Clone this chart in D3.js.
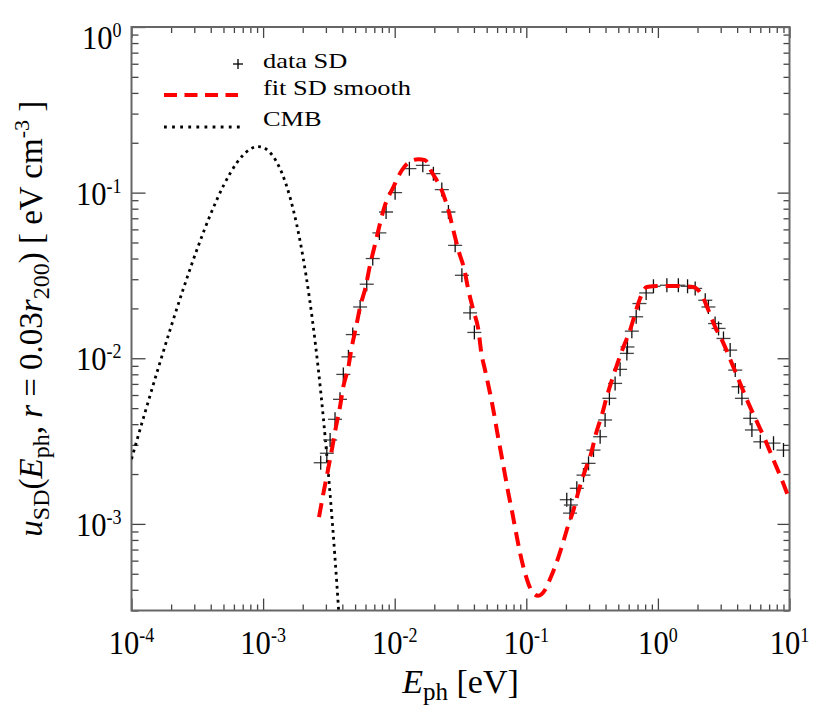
<!DOCTYPE html>
<meta charset="utf-8">
<style>
  body { margin: 0; background: #fff; }
  svg text { font-family: "Liberation Serif", "Times New Roman", serif; fill: #000; white-space: pre; }
</style>
<svg id="chart" width="822" height="719"></svg>
<script src="https://d3js.org/d3.v7.min.js"></script>
<script>
// CMB spectrum (energy in eV, energy density per log bin in eV cm^-3)
var cmbE = [1.0e-4, 1.25e-4, 1.6e-4, 2.0e-4, 2.5e-4, 3.2e-4, 4.0e-4, 5.0e-4, 6.3e-4, 7.0e-4,
            8.0e-4, 9.0e-4, 1.0e-3, 1.1e-3, 1.25e-3, 1.4e-3, 1.6e-3, 1.8e-3, 2.0e-3, 2.25e-3,
            2.5e-3, 2.75e-3, 3.0e-3, 3.25e-3, 3.5e-3, 3.75e-3, 4.0e-3]
var cmbU = [2.46e-3, 4.54e-3, 8.76e-3, 1.555e-2, 2.685e-2, 4.71e-2, 7.44e-2, 0.1101, 0.151, 0.1676,
            0.1834, 0.1896, 0.1873, 0.1782, 0.1562, 0.1294, 0.0940, 0.0642, 0.04175, 0.02307,
            0.01212, 6.12e-3, 2.99e-3, 1.42e-3, 6.6e-4, 3.0e-4, 1.34e-4]

// smooth fit
var fitE = [2.66e-3, 2.92e-3, 3.13e-3, 3.36e-3, 3.58e-3, 3.84e-3, 4.07e-3, 4.45e-3, 4.72e-3, 5.09e-3,
            5.46e-3, 6.06e-3, 6.42e-3, 7.01e-3, 7.57e-3, 8.35e-3, 9.77e-3, 0.0113, 0.01309, 0.01514,
            0.01702, 0.01914, 0.0228, 0.0256, 0.0279, 0.0305, 0.0339, 0.0363, 0.0396, 0.0433,
            0.0454, 0.0486, 0.0524, 0.0562, 0.0597, 0.0640, 0.0682, 0.0731, 0.0784, 0.0837,
            0.0897, 0.0979, 0.1088, 0.123, 0.139, 0.1518, 0.1656, 0.1862, 0.2068, 0.2282,
            0.249, 0.275, 0.311, 0.339, 0.375, 0.409, 0.447, 0.493, 0.547, 0.615,
            0.672, 0.733, 0.824, 1.04, 1.39, 1.86, 2.02, 2.16, 2.42, 2.72,
            3.15, 3.65, 4.22, 4.88, 5.65, 6.54, 7.56, 8.76, 10.0]
var fitU = [1.10e-3, 1.64e-3, 2.17e-3, 2.92e-3, 3.86e-3, 5.10e-3, 6.73e-3, 8.88e-3, 0.0117, 0.0155,
            0.0204, 0.0276, 0.0350, 0.0470, 0.0607, 0.0819, 0.108, 0.136, 0.154, 0.159,
            0.157, 0.133, 0.103, 0.0782, 0.0593, 0.0449, 0.0340, 0.0258, 0.0195, 0.01478,
            0.01094, 8.48e-3, 6.43e-3, 4.87e-3, 3.69e-3, 2.73e-3, 2.07e-3, 1.53e-3, 1.16e-3, 8.79e-4,
            6.66e-4, 5.04e-4, 4.00e-4, 3.68e-4, 4.00e-4, 4.66e-4, 5.53e-4, 7.30e-4, 9.63e-4, 1.21e-3,
            1.57e-3, 2.02e-3, 2.67e-3, 3.52e-3, 4.54e-3, 5.86e-3, 7.38e-3, 9.31e-3, 0.0117, 0.0148,
            0.01864, 0.0230, 0.0269, 0.0273, 0.0273, 0.0269, 0.0258, 0.0240, 0.0195, 0.0155,
            0.0123, 9.31e-3, 7.05e-3, 5.34e-3, 4.14e-3, 3.21e-3, 2.43e-3, 1.84e-3, 1.40e-3]

// binned data points
var dataE = [2.74e-3, 3.05e-3, 3.23e-3, 3.52e-3, 3.84e-3, 4.07e-3, 4.45e-3, 4.80e-3, 5.46e-3, 6.13e-3,
             6.81e-3, 7.65e-3, 8.60e-3, 0.01007, 0.01293, 0.01635, 0.01968, 0.0228, 0.0256, 0.0288,
             0.0324, 0.0374, 0.0403,
             0.203, 0.218, 0.215, 0.242, 0.272, 0.297, 0.324, 0.364, 0.397, 0.428,
             0.473, 0.516, 0.581, 0.587, 0.634, 0.684, 0.724, 0.814, 0.925, 1.17,
             1.43, 1.68, 1.92, 2.29, 2.42, 2.72, 2.89, 3.15, 3.54, 3.87,
             4.10, 4.35, 5.03, 5.18, 6.00, 7.56, 9.00]
var dataU = [2.34e-3, 2.67e-3, 3.21e-3, 4.28e-3, 5.65e-3, 7.99e-3, 0.0102, 0.0139, 0.0204, 0.0280,
             0.0400, 0.0571, 0.0764, 0.100, 0.1396, 0.1461, 0.1302, 0.1043, 0.0764, 0.0481,
             0.0317, 0.0188, 0.01432,
             1.40e-3, 1.30e-3, 1.16e-3, 1.64e-3, 1.97e-3, 2.32e-3, 2.79e-3, 3.36e-3, 4.24e-3, 5.73e-3,
             7.05e-3, 8.57e-3, 0.0107, 0.0117, 0.01458, 0.0178, 0.0214, 0.0248, 0.0272, 0.0276,
             0.0276, 0.0272, 0.0264, 0.0224, 0.0204, 0.0162, 0.01514, 0.01317, 0.0112, 8.48e-3,
             6.73e-3, 5.73e-3, 4.34e-3, 3.69e-3, 3.13e-3, 3.07e-3, 2.79e-3]

var xTickExp = [-4, -3, -2, -1, 0, 1]
var yTickExp = [-3, -2, -1, 0]
var legendLabels = ['data SD', 'fit SD smooth', 'CMB']

var width = 822, height = 719,
    margin = {top: 27, right: 32.5, bottom: 108.5, left: 131.5},
    serif = '"Liberation Serif", "Times New Roman", serif'

var svg = d3.select('#chart')

var x = d3.scaleLog().domain([1e-4, 10]).range([margin.left, width - margin.right])
var y = d3.scaleLog().domain([3e-4, 1]).range([height - margin.bottom, margin.top])

var x0 = x.range()[0], x1 = x.range()[1], y0 = y.range()[0], y1 = y.range()[1]

// tick positions
var xMajor = xTickExp.map(e => Math.pow(10, e))
var xMinor = x.ticks().filter(v => xMajor.every(m => Math.abs(v / m - 1) > 1e-6))
var yMajor = yTickExp.map(e => Math.pow(10, e))
var yMinor = y.ticks().filter(v => yMajor.every(m => Math.abs(v / m - 1) > 1e-6))

function tickStyle(g) {
  g.select('.domain').remove()
  g.selectAll('.tick line').attr('stroke', '#444').attr('stroke-width', 1.3)
  g.selectAll('.tick text').remove()
}

var axes = svg.append('g')
axes.append('g').attr('transform', `translate(0,${y0})`)
  .call(d3.axisBottom(x).tickValues(xMajor).tickSize(-12)).call(tickStyle)
axes.append('g').attr('transform', `translate(0,${y0})`)
  .call(d3.axisBottom(x).tickValues(xMinor).tickSize(-6)).call(tickStyle)
axes.append('g').attr('transform', `translate(0,${y1})`)
  .call(d3.axisTop(x).tickValues(xMajor).tickSize(-11)).call(tickStyle)
axes.append('g').attr('transform', `translate(0,${y1})`)
  .call(d3.axisTop(x).tickValues(xMinor).tickSize(-6)).call(tickStyle)
axes.append('g').attr('transform', `translate(${x0},0)`)
  .call(d3.axisLeft(y).tickValues(yMajor).tickSize(-14)).call(tickStyle)
axes.append('g').attr('transform', `translate(${x0},0)`)
  .call(d3.axisLeft(y).tickValues(yMinor).tickSize(-7)).call(tickStyle)
axes.append('g').attr('transform', `translate(${x1},0)`)
  .call(d3.axisRight(y).tickValues(yMajor).tickSize(-12)).call(tickStyle)
axes.append('g').attr('transform', `translate(${x1},0)`)
  .call(d3.axisRight(y).tickValues(yMinor).tickSize(-6)).call(tickStyle)

// frame
svg.append('rect')
  .attr('x', x0).attr('y', y1)
  .attr('width', x1 - x0).attr('height', y0 - y1)
  .attr('fill', 'none').attr('stroke', '#666').attr('stroke-width', 2)

// power-of-ten labels
function powLabel(px, py, exp, anchor) {
  var t = svg.append('text')
    .attr('transform', `translate(${px},${py}) scale(0.9,1)`)
    .attr('text-anchor', anchor)
    .style('font-size', '34px')
  t.append('tspan').text('10')
  t.append('tspan').attr('dy', -12).style('font-size', '20px').text(exp)
}
xTickExp.forEach((e, i) => powLabel(x(xMajor[i]), 654, e, 'middle'))
yTickExp.forEach((e, i) => powLabel(121.5, Math.max(y(yMajor[i]), 37) + 12, e, 'end'))

// clip
svg.append('clipPath').attr('id', 'plot-clip')
  .append('rect').attr('x', x0).attr('y', y1).attr('width', x1 - x0).attr('height', y0 - y1)

var plot = svg.append('g').attr('clip-path', 'url(#plot-clip)')

var line = d3.line()
  .x(d => x(d[0]))
  .y(d => y(d[1]))
  .curve(d3.curveMonotoneX)

plot.append('path')
  .datum(cmbE.map((e, i) => [e, cmbU[i]]))
  .attr('d', line)
  .attr('fill', 'none')
  .attr('stroke', '#000')
  .attr('stroke-width', 2.8)
  .attr('stroke-dasharray', '2.8,4.2')

// data crosses
var pts = plot.selectAll('.pt')
  .data(dataE.map((e, i) => [e, dataU[i]]))
  .enter().append('g')
  .attr('class', 'pt')
  .attr('transform', d => `translate(${x(d[0])},${y(d[1])})`)
pts.append('line').attr('x1', -7).attr('x2', 7)
  .attr('stroke', '#444').attr('stroke-width', 1.3)
pts.append('line').attr('y1', -7).attr('y2', 7)
  .attr('stroke', '#111').attr('stroke-width', 1.3)

plot.append('path')
  .datum(fitE.map((e, i) => [e, fitU[i]]))
  .attr('d', line)
  .attr('fill', 'none')
  .attr('stroke', '#ff0000')
  .attr('stroke-width', 4)
  .attr('stroke-dasharray', '14,8')

// legend
var legend = svg.append('g')
var legY = [68, 95, 126]
legend.selectAll('text')
  .data(legendLabels)
  .enter().append('text')
  .attr('transform', (d, i) => `translate(263,${legY[i]}) scale(1.2,1)`)
  .style('font-size', '22px')
  .text(d => d)

var cross = legend.append('g').attr('transform', 'translate(238,64)')
cross.append('line').attr('x1', -5).attr('x2', 5).attr('stroke', '#000').attr('stroke-width', 1.3)
cross.append('line').attr('y1', -5).attr('y2', 5).attr('stroke', '#000').attr('stroke-width', 1.3)

legend.append('line')
  .attr('x1', 164).attr('x2', 238).attr('y1', 95).attr('y2', 95)
  .attr('stroke', '#ff0000').attr('stroke-width', 4).attr('stroke-dasharray', '13,7.5')
legend.append('line')
  .attr('x1', 164).attr('x2', 240).attr('y1', 127).attr('y2', 127)
  .attr('stroke', '#000').attr('stroke-width', 2.8).attr('stroke-dasharray', '2.8,5.3')

// x title
var xt = svg.append('text')
  .attr('x', (x0 + x1) / 2).attr('y', 693)
  .attr('text-anchor', 'middle')
  .style('font-size', '34px')
xt.append('tspan').style('font-style', 'italic').text('E')
xt.append('tspan').attr('dy', 7).style('font-size', '25px').text('ph')
xt.append('tspan').attr('dy', -7).text(' [eV]')

// y title
var yt = svg.append('text')
  .attr('transform', `translate(42,${(y0 + y1) / 2}) rotate(-90)`)
  .attr('text-anchor', 'middle')
  .style('font-size', '33px')
yt.append('tspan').style('font-style', 'italic').text('u')
yt.append('tspan').attr('dy', 7).style('font-size', '24px').text('SD')
yt.append('tspan').attr('dy', -7).text('(')
yt.append('tspan').style('font-style', 'italic').text('E')
yt.append('tspan').attr('dy', 7).style('font-size', '24px').text('ph')
yt.append('tspan').attr('dy', -7).text(', ')
yt.append('tspan').style('font-style', 'italic').text('r')
yt.append('tspan').text(' = 0.03')
yt.append('tspan').style('font-style', 'italic').text('r')
yt.append('tspan').attr('dy', 7).style('font-size', '24px').text('200')
yt.append('tspan').attr('dy', -7).text(') [ eV cm')
yt.append('tspan').attr('dy', -13).style('font-size', '22px').text('-3')
yt.append('tspan').attr('dy', 13).text(' ]')
</script>
